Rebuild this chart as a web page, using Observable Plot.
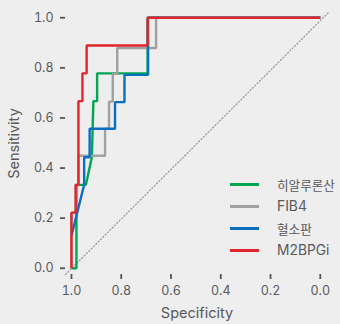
<!DOCTYPE html>
<html>
<head>
<meta charset="utf-8">
<script src="https://cdn.jsdelivr.net/npm/d3@7"></script>
<script src="https://cdn.jsdelivr.net/npm/@observablehq/plot@0.6"></script>
<style>
  html, body { margin: 0; padding: 0; background: #eeeeee; }
  #wrap { position: relative; width: 340px; height: 324px; font-family: Inter, "Noto Sans CJK KR", sans-serif; }
  #legend { position: absolute; left: 230px; top: 173px; }
  .item { display: flex; align-items: center; height: 22px; white-space: nowrap; }
  .sw { width: 29px; height: 3px; margin-right: 18px; }
  .lab { font-size: 13.8px; color: #595959; }
  .lab.ko { font-size: 12.6px; }
</style>
</head>
<body>
<div id="wrap"><div id="legend"></div></div>
<script>
// Series names and colours (legend order)
const names = ["히알루론산", "FIB4", "혈소판", "M2BPGi"];
const colors = ["#00a651", "#a0a0a0", "#0a6fc0", "#e2252d"];

// Tick labels and axis titles
const xTicks = [1.0, 0.8, 0.6, 0.4, 0.2, 0.0];
const yTicks = [0.0, 0.2, 0.4, 0.6, 0.8, 1.0];
const xTitle = "Specificity";
const yTitle = "Sensitivity";

// Axis extents (specificity is reversed)
const xDomain = [1.024, -0.033];
const yDomain = [-0.025, 1.021];

// ROC curves: specificity / sensitivity
const hyaluronicSpec = [1.0, 0.980, 0.980, 0.942, 0.918, 0.912, 0.897, 0.897, 0.694, 0.694, 0.0];
const hyaluronicSens = [0.0, 0.0, 0.333, 0.333, 0.444, 0.667, 0.667, 0.778, 0.778, 1.0, 1.0];

const fib4Spec = [1.0, 1.0, 0.983, 0.983, 0.972, 0.972, 0.865, 0.865, 0.849, 0.849, 0.834, 0.834, 0.816, 0.816, 0.660, 0.660, 0.0];
const fib4Sens = [0.0, 0.222, 0.222, 0.333, 0.333, 0.449, 0.449, 0.557, 0.557, 0.665, 0.665, 0.776, 0.776, 0.879, 0.879, 1.0, 1.0];

const plateletSpec = [1.0, 0.949, 0.949, 0.927, 0.927, 0.825, 0.825, 0.787, 0.787, 0.692, 0.692, 0.692, 0.0];
const plateletSens = [0.13, 0.333, 0.443, 0.443, 0.557, 0.557, 0.663, 0.663, 0.772, 0.772, 0.879, 1.0, 1.0];

const m2bpgiSpec = [1.0, 1.0, 0.983, 0.983, 0.972, 0.972, 0.956, 0.956, 0.939, 0.939, 0.694, 0.694, 0.0];
const m2bpgiSens = [0.0, 0.222, 0.222, 0.333, 0.333, 0.667, 0.667, 0.778, 0.778, 0.889, 0.889, 1.0, 1.0];

const specs = [hyaluronicSpec, fib4Spec, plateletSpec, m2bpgiSpec];
const senss = [hyaluronicSens, fib4Sens, plateletSens, m2bpgiSens];

const rows = [];
names.forEach((n, i) => specs[i].forEach((s, j) => rows.push({name: n, spec: s, sens: senss[i][j]})));

// chance diagonal, corner to corner of the axes
const diag = [{x: xDomain[0], y: yDomain[0]}, {x: xDomain[1], y: yDomain[1]}];

const chart = Plot.plot({
  width: 340,
  height: 324,
  marginLeft: 65,
  marginRight: 12,
  marginTop: 12,
  marginBottom: 50,
  style: {background: "#eeeeee", fontFamily: "Inter, 'Noto Sans CJK KR', sans-serif", color: "#595959", overflow: "visible"},
  x: {domain: xDomain},
  y: {domain: yDomain},
  color: {domain: names, range: colors},
  marks: [
    Plot.line(diag, {x: "x", y: "y", stroke: "#9a9a9a", strokeWidth: 1.3, strokeDasharray: "1,2.3"}),
    Plot.line(rows, {x: "spec", y: "sens", z: "name", stroke: "name", strokeWidth: 2.4, strokeLinejoin: "miter", strokeLinecap: "butt"}),
    Plot.axisX({ticks: xTicks, tickFormat: d3.format(".1f"), tickSize: 5, tickPadding: 7, line: true,
      stroke: "#555", strokeWidth: 1.8, fill: "#595959", fontSize: 12.5, label: null}),
    Plot.axisY({ticks: yTicks, tickFormat: d3.format(".1f"), tickSize: 5, tickPadding: 7, line: true,
      stroke: "#555", strokeWidth: 1.8, fill: "#595959", fontSize: 12.5, label: null}),
    Plot.text([xTitle], {frameAnchor: "bottom", lineAnchor: "middle", textAnchor: "middle", dy: 38.5, fontSize: 14.5, fill: "#595959"}),
    Plot.text([yTitle], {frameAnchor: "left", lineAnchor: "middle", textAnchor: "middle", dx: -51.5, rotate: -90, fontSize: 14.5, fill: "#595959"})
  ]
});
document.getElementById("wrap").prepend(chart);

const legend = document.getElementById("legend");
names.forEach((n, i) => {
  const it = document.createElement("div");
  it.className = "item";
  const ko = /[\uac00-\ud7a3]/.test(n) ? " ko" : "";
  it.innerHTML = `<div class="sw" style="background:${colors[i]}"></div><span class="lab${ko}">${n}</span>`;
  legend.appendChild(it);
});
</script>
</body>
</html>
